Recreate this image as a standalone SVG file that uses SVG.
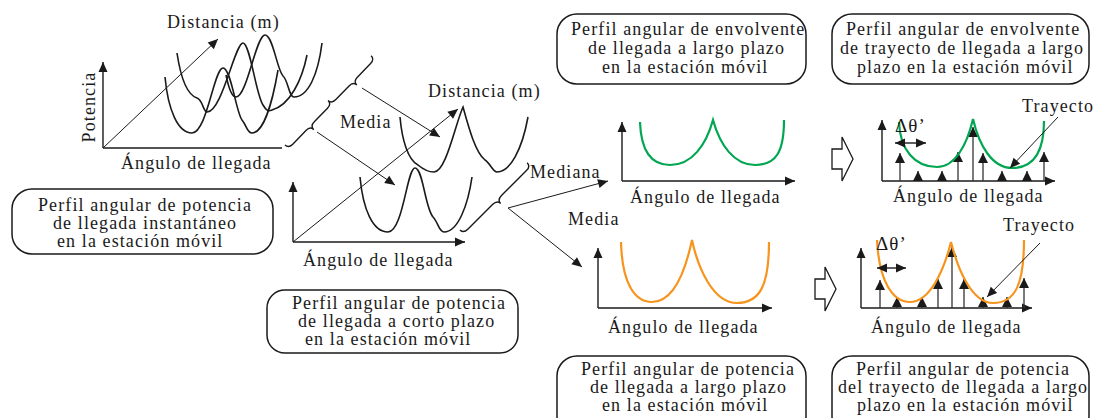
<svg xmlns="http://www.w3.org/2000/svg" width="1094" height="418" viewBox="0 0 1094 418">
<style>
text{font-family:"Liberation Serif","Times New Roman",serif;font-size:18px;letter-spacing:1.1px;fill:#1a1a1a}
.box{fill:#fff;stroke:#1a1a1a;stroke-width:1.5}
.crv{fill:none;stroke:#1a1a1a;stroke-width:1.6}
.ax{fill:none;stroke:#1a1a1a;stroke-width:1.4}
.thin{fill:none;stroke:#1a1a1a;stroke-width:1}
.stem{fill:none;stroke:#333;stroke-width:1.3}
.grn{fill:none;stroke:#00a651;stroke-width:2.2}
.org{fill:none;stroke:#f7941d;stroke-width:2.2}
.blk{fill:#fff;stroke:#1a1a1a;stroke-width:1.3}
.brace{fill:none;stroke:#1a1a1a;stroke-width:1.4}
</style>
<defs>
<marker id="ah" viewBox="0 0 10 10" refX="10" refY="5" markerWidth="11" markerHeight="10" markerUnits="userSpaceOnUse" orient="auto-start-reverse"><path d="M0,0.5 L10,5 L0,9.5 z" fill="#1a1a1a"/></marker>
<marker id="sh" viewBox="0 0 10 10" refX="10" refY="5" markerWidth="10" markerHeight="10" markerUnits="userSpaceOnUse" orient="auto"><path d="M0,0 L10,5 L0,10 z" fill="#1a1a1a"/></marker>
</defs>

<g id="panel-instant">
<line class="ax" x1="103" y1="148" x2="103" y2="62" marker-end="url(#ah)"/>
<line class="ax" x1="103" y1="148" x2="282" y2="148"/>
<line class="thin" x1="103" y1="148" x2="218" y2="39" marker-end="url(#ah)"/>
<path class="crv" d="M165,77 C168,110 178,133 192,133 C207,133 214,68 223,68 C231,68 236,112 242,120 C247,126 247,133 252,133 C263,133 272,105 278,70"/>
<path class="crv" d="M177,53 C181,80 188,95 197,98 C203,100 203,112 207,112 C222,112 235,43 243,43 C250,43 256,95 263,105 C266,110 268,112 272,110 C290,105 302,80 307,55"/>
<path class="crv" d="M226,75 C229,90 232,97 236,97 C247,97 256,35 265,35 C273,35 277,70 283,76 C288,80 289,97 294,97 C308,97 318,75 322,43"/>
<text x="167" y="28">Distancia (m)</text>
<text transform="translate(95,107) rotate(-90)" text-anchor="middle">Potencia</text>
<text x="121" y="169">Ángulo de llegada</text>
</g>

<g id="panel-short">
<line class="ax" x1="293" y1="242" x2="293" y2="182" marker-end="url(#ah)"/>
<line class="ax" x1="293" y1="242" x2="465" y2="242" marker-end="url(#ah)"/>
<line class="thin" x1="293" y1="242" x2="458" y2="109" marker-end="url(#ah)"/>
<path class="crv" d="M360,177 C363,210 373,232 388,232 C403,232 407,168 415,168 C423,168 425,208 433,217 C438,222 439,232 444,232 C458,232 468,205 472,177"/>
<path class="crv" d="M400,117 C402,140 408,160 418,165 C424,170 428,172 434,172 C446,172 455,125 463,107 C468,125 475,152 485,160 C490,163 493,172 497,172 C510,172 522,150 528,117"/>
<text x="428" y="97">Distancia (m)</text>
<text x="303" y="266">Ángulo de llegada</text>
</g>

<g id="panel-envelope">
<line class="ax" x1="622" y1="181" x2="622" y2="122" marker-end="url(#ah)"/>
<line class="ax" x1="622" y1="181" x2="795" y2="181" marker-end="url(#ah)"/>
<path class="grn" d="M640,122 C641,152 652,165 670,165 C692,165 706,145 713,120 C720,145 734,165 755,165 C776,165 784,152 784,120"/>
<text x="630" y="203">Ángulo de llegada</text>
</g>

<g id="panel-long-power">
<line class="ax" x1="598" y1="308" x2="598" y2="248" marker-end="url(#ah)"/>
<line class="ax" x1="598" y1="308" x2="772" y2="308" marker-end="url(#ah)"/>
<path class="org" d="M621,242 C622,282 634,302 652,302 C675,302 686,268 692,240 C698,268 713,303 737,303 C760,303 769,285 769,242"/>
<text x="608" y="333">Ángulo de llegada</text>
</g>

<g id="panel-path-envelope">
<line class="ax" x1="882" y1="181" x2="882" y2="120" marker-end="url(#ah)"/>
<line class="ax" x1="882" y1="181" x2="1055" y2="181" marker-end="url(#ah)"/>
<g class="stem">
<line x1="900" y1="181" x2="900" y2="153" marker-end="url(#sh)"/>
<line x1="918" y1="181" x2="918" y2="171" marker-end="url(#sh)"/>
<line x1="942" y1="181" x2="942" y2="171" marker-end="url(#sh)"/>
<line x1="958" y1="181" x2="958" y2="152" marker-end="url(#sh)"/>
<line x1="973" y1="181" x2="973" y2="127" marker-end="url(#sh)"/>
<line x1="983" y1="181" x2="983" y2="153" marker-end="url(#sh)"/>
<line x1="1002" y1="181" x2="1002" y2="171" marker-end="url(#sh)"/>
<line x1="1027" y1="181" x2="1027" y2="171" marker-end="url(#sh)"/>
<line x1="1044" y1="181" x2="1044" y2="152" marker-end="url(#sh)"/>
</g>
<path class="grn" d="M899,122 C900,150 915,167 937,167 C955,167 967,145 973,119 C979,145 992,168 1012,168 C1035,168 1044,150 1044,121"/>
<line class="ax" x1="895" y1="143" x2="926" y2="143" marker-start="url(#ah)" marker-end="url(#ah)"/>
<line class="thin" x1="1058" y1="117" x2="1010" y2="168" marker-end="url(#ah)"/>
<text x="895" y="132" style="font-size:19px">Δθ’</text>
<text x="1022" y="112">Trayecto</text>
<text x="893" y="202">Ángulo de llegada</text>
</g>

<g id="panel-path-power">
<line class="ax" x1="861" y1="308" x2="861" y2="248" marker-end="url(#ah)"/>
<line class="ax" x1="861" y1="308" x2="1032" y2="308" marker-end="url(#ah)"/>
<g class="stem">
<line x1="880" y1="308" x2="880" y2="280" marker-end="url(#sh)"/>
<line x1="897" y1="308" x2="897" y2="297" marker-end="url(#sh)"/>
<line x1="922" y1="308" x2="922" y2="297" marker-end="url(#sh)"/>
<line x1="938" y1="308" x2="938" y2="279" marker-end="url(#sh)"/>
<line x1="952" y1="308" x2="952" y2="247" marker-end="url(#sh)"/>
<line x1="964" y1="308" x2="964" y2="279" marker-end="url(#sh)"/>
<line x1="983" y1="308" x2="983" y2="297" marker-end="url(#sh)"/>
<line x1="1007" y1="308" x2="1007" y2="297" marker-end="url(#sh)"/>
<line x1="1024" y1="308" x2="1024" y2="278" marker-end="url(#sh)"/>
</g>
<path class="org" d="M877,240 C879,280 892,302 910,302 C930,302 944,270 951,242 C958,270 972,303 993,303 C1015,303 1024,285 1024,240"/>
<line class="ax" x1="877" y1="268" x2="906" y2="268" marker-start="url(#ah)" marker-end="url(#ah)"/>
<line class="thin" x1="1040" y1="243" x2="987" y2="297" marker-end="url(#ah)"/>
<text x="876" y="250" style="font-size:19px">Δθ’</text>
<text x="1003" y="231">Trayecto</text>
<text x="871" y="333">Ángulo de llegada</text>
</g>

<g id="box-instant">
<rect class="box" x="12" y="189" width="261" height="65" rx="20"/>
<text x="38" y="211">Perfil angular de potencia</text>
<text x="53" y="229">de llegada instantáneo</text>
<text x="57" y="247">en la estación móvil</text>
</g>
<g id="box-short">
<rect class="box" x="267" y="290" width="251" height="63" rx="18"/>
<text x="292" y="309">Perfil angular de potencia</text>
<text x="298" y="327">de llegada a corto plazo</text>
<text x="305" y="345">en la estación móvil</text>
</g>
<g id="box-envelope">
<rect class="box" x="557" y="14" width="249" height="70" rx="20"/>
<text x="571" y="35">Perfil angular de envolvente</text>
<text x="588" y="54">de llegada a largo plazo</text>
<text x="602" y="73">en la estación móvil</text>
</g>
<g id="box-path-envelope">
<rect class="box" x="832" y="14" width="257" height="70" rx="20"/>
<text x="846" y="35">Perfil angular de envolvente</text>
<text x="840" y="54">de trayecto de llegada a largo</text>
<text x="857" y="73">plazo en la estación móvil</text>
</g>
<g id="box-long-power">
<rect class="box" x="557" y="356" width="249" height="80" rx="20"/>
<text x="581" y="375">Perfil angular de potencia</text>
<text x="590" y="393">de llegada a largo plazo</text>
<text x="602" y="411">en la estación móvil</text>
</g>
<g id="box-path-power">
<rect class="box" x="832" y="356" width="257" height="80" rx="20"/>
<text x="856" y="375">Perfil angular de potencia</text>
<text x="838" y="393">del trayecto de llegada a largo</text>
<text x="857" y="411">plazo en la estación móvil</text>
</g>

<g id="connectors">
<path class="brace" transform="translate(285,145) rotate(-46)" d="M0,0 Q0,5 6,5 L25,5 Q31,5 31,10 Q31,5 37,5 L56,5 Q62,5 62,0 Q62,5 68,5 L87,5 Q93,5 93,10 Q93,5 99,5 L118,5 Q124,5 124,0"/>
<line class="thin" x1="317" y1="132" x2="395" y2="185" marker-end="url(#ah)"/>
<line class="thin" x1="362" y1="88" x2="440" y2="137" marker-end="url(#ah)"/>
<text x="340" y="128">Media</text>
<path class="brace" transform="translate(460,230) rotate(-45)" d="M0,0 Q0,5 6,5 L41,5 Q47.5,5 47.5,10 Q47.5,5 54,5 L89,5 Q95,5 95,0"/>
<line class="thin" x1="508" y1="208" x2="608" y2="181" marker-end="url(#ah)"/>
<line class="thin" x1="508" y1="208" x2="582" y2="267" marker-end="url(#ah)"/>
<text x="530" y="178">Mediana</text>
<text x="568" y="225">Media</text>
<path class="blk" d="M832,149 L842,149 L842,137 L853,159 L842,181 L842,169 L832,169 Z"/>
<path class="blk" d="M815,279 L825,279 L825,267 L836,289 L825,311 L825,299 L815,299 Z"/>
</g>
</svg>
